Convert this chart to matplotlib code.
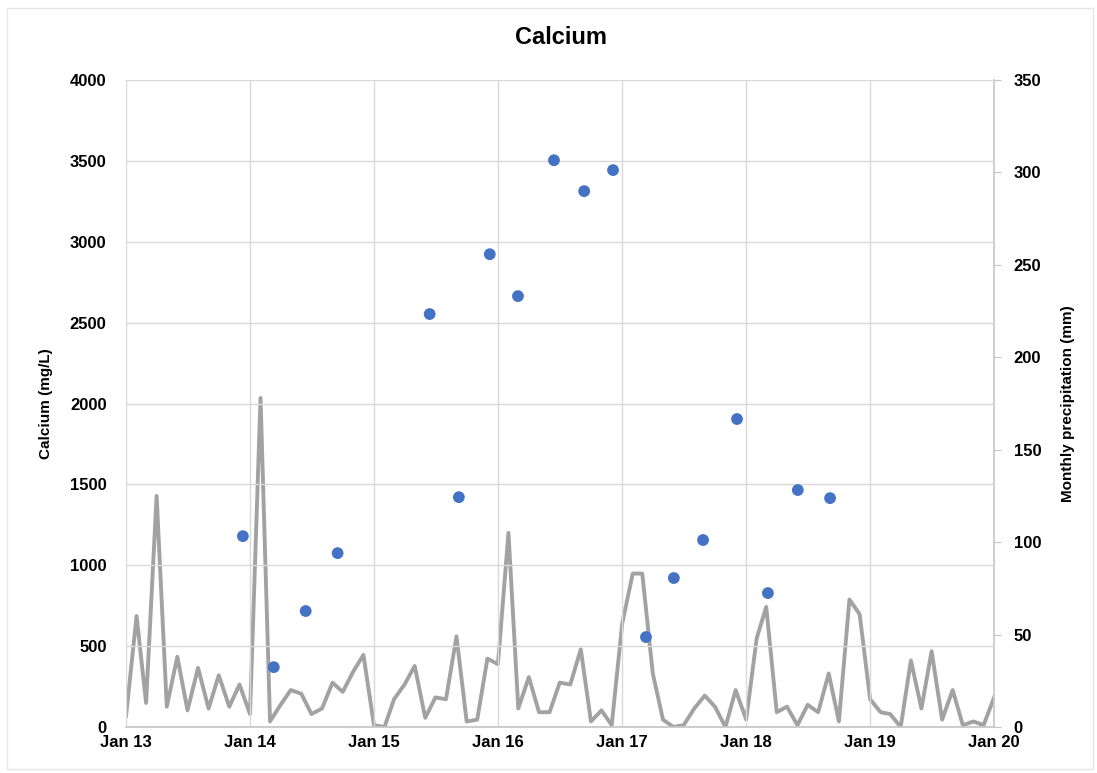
import numpy as np
import pandas as pd
import matplotlib
matplotlib.use("Agg")
import matplotlib.pyplot as plt
import matplotlib.dates as mdates

# calcium samples (mg/L)
ca_dates = ["2013-12-11", "2014-03-12", "2014-06-14", "2014-09-16",
            "2015-06-14", "2015-09-08", "2015-12-08", "2016-02-29",
            "2016-06-14", "2016-09-11", "2016-12-05", "2017-03-12",
            "2017-06-02", "2017-08-27", "2017-12-05", "2018-03-06",
            "2018-06-02", "2018-09-05"]
ca_values = [1180, 370, 717, 1075, 2553, 1421, 2923, 2664, 3504, 3313,
             3443, 556, 921, 1156, 1904, 828, 1465, 1415]

# monthly precipitation (mm), Jan 2013 .. Jan 2020
precip = [6, 60, 13, 125, 11, 38, 9, 32, 10, 28, 11, 23,
          7, 178, 3, 12, 20, 18, 7, 10, 24, 19, 30, 39,
          1, 0, 15, 23, 33, 5, 16, 15, 49, 3, 4, 37,
          34, 105, 10, 27, 8, 8, 24, 23, 42, 3, 9, 1,
          56, 83, 83, 29, 4, 0, 1, 10, 17, 11, 0, 20,
          4, 48, 65, 8, 11, 1, 12, 8, 29, 3, 69, 61,
          15, 8, 7, 0, 36, 10, 41, 4, 20, 1, 3, 1,
          16]
precip_dates = pd.date_range("2013-01-01", periods=len(precip), freq="MS")

plt.rcParams['font.family'] = ['Liberation Sans', 'DejaVu Sans']
plt.rcParams['font.weight'] = 'bold'

fig = plt.figure(figsize=(10.97, 7.73), dpi=100)
ax = fig.add_axes([0.1149, 0.0595, 0.7913, 0.837])
ax2 = ax.twinx()

# precipitation line on the right axis
ax2.plot(precip_dates, precip, color='#A2A2A2', linewidth=2.8, zorder=2)
ax2.set_ylim(0, 350)
ax2.set_yticks(np.arange(0, 351, 50))

# calcium dots on top
ax.set_zorder(ax2.get_zorder() + 1)
ax.patch.set_visible(False)
ax.scatter(pd.to_datetime(ca_dates), ca_values, s=72, color='#4472C4',
           zorder=3, edgecolors='none')
ax.set_ylim(0, 4000)
ax.set_yticks(np.arange(0, 4001, 500))

xmin = pd.Timestamp("2013-01-01")
xmax = pd.Timestamp("2020-01-01")
ax.set_xlim(xmin, xmax)
ax.xaxis.set_major_locator(mdates.YearLocator())
ax.xaxis.set_major_formatter(mdates.DateFormatter("Jan %y"))

grid_c = '#D9D9D9'
ax.grid(True, color=grid_c, linewidth=1.0)
ax.set_axisbelow(True)

for a in (ax, ax2):
    for s in a.spines.values():
        s.set_visible(False)
ax2.spines['right'].set_visible(True)
ax2.spines['right'].set_color('#C4C4C4')
ax2.spines['right'].set_linewidth(1.2)
ax.spines['bottom'].set_visible(True)
ax.spines['bottom'].set_color('#C4C4C4')
ax.spines['bottom'].set_linewidth(1.2)

ax.tick_params(axis='y', length=0, labelsize=12, pad=14)
ax.tick_params(axis='x', length=0, labelsize=12, pad=6)
ax2.tick_params(axis='y', length=5, color='#C4C4C4', labelsize=12, pad=9)
for lab in ax.get_xticklabels() + ax.get_yticklabels() + ax2.get_yticklabels():
    lab.set_fontweight('bold')

ax.set_ylabel("Calcium (mg/L)", fontsize=11, fontweight='bold', labelpad=12)
ax2.set_ylabel("Monthly precipitation (mm)", fontsize=11, fontweight='bold',
               labelpad=14)
fig.text(0.5115, 0.952, "Calcium", ha='center', va='center', fontsize=17,
         fontweight='bold')

# light frame around the chart
frame = plt.Rectangle((0.006, 0.005), 0.99, 0.985, transform=fig.transFigure,
                      fill=False, edgecolor='#E6E6E6', linewidth=1.0)
fig.patches.append(frame)

fig.savefig("out.png", dpi=100)
